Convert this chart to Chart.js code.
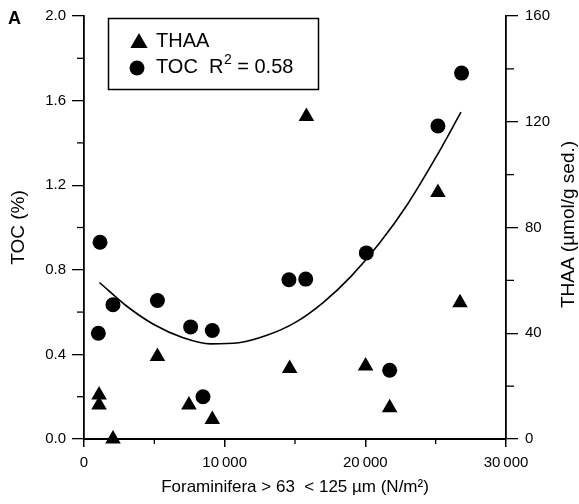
<!DOCTYPE html>
<html>
<head>
<meta charset="utf-8">
<script src="https://cdn.jsdelivr.net/npm/chart.js@4.4.0/dist/chart.umd.min.js"></script>
<style>
  html, body { margin: 0; padding: 0; background: #fff; }
</style>
</head>
<body>
<canvas id="chart" width="579" height="504"></canvas>
<script>
const FONT = "'Liberation Sans', Arial, Helvetica, sans-serif";

// TOC (%) against foraminifera count
const tocX = [1020, 1140, 2060, 5220, 7580, 8460, 9120, 14570, 15760, 20070, 21730, 25160, 26840];
const tocY = [0.50, 0.93, 0.635, 0.655, 0.53, 0.20, 0.513, 0.753, 0.756, 0.88, 0.325, 1.48, 1.73];

// THAA (umol/g sed.) against foraminifera count
const thaaX = [1070, 1070, 2060, 5220, 7460, 9120, 14620, 15810, 20020, 21730, 25160, 26730];
const thaaY = [16.6, 12.9, 0, 31.2, 12.9, 7.4, 26.7, 122, 27.6, 11.8, 93.2, 51.5];

// fitted TOC curve
const fitX = [1100, 3000, 5000, 7000, 9000, 11000, 13000, 15000, 17000, 19000, 21000, 23000, 25000, 26800];
const fitY = [0.74, 0.63, 0.54, 0.48, 0.45, 0.455, 0.49, 0.55, 0.645, 0.77, 0.925, 1.11, 1.33, 1.545];

const xTicks = [0, 10000, 20000, 30000];
const xMinor = [5000, 15000, 25000];
const tocTicks = [0, 0.4, 0.8, 1.2, 1.6, 2.0];
const tocMinor = [0.2, 0.6, 1.0, 1.4, 1.8];
const thaaTicks = [0, 40, 80, 120, 160];
const thaaMinor = [20, 60, 100, 140];

const toPoints = (xs, ys) => xs.map((x, i) => ({ x: x, y: ys[i] }));

function line(ctx, x1, y1, x2, y2) {
    ctx.beginPath();
    ctx.moveTo(x1, y1);
    ctx.lineTo(x2, y2);
    ctx.stroke();
}

const extras = {
    id: "extras",
    afterDraw(chart) {
        const ctx = chart.ctx;
        const { left, right, top, bottom } = chart.chartArea;
        ctx.save();
        ctx.strokeStyle = "#000";
        ctx.fillStyle = "#000";
        ctx.lineWidth = 1.3;

        // minor ticks
        xMinor.forEach(v => {
            const px = chart.scales.x.getPixelForValue(v);
            line(ctx, px, bottom, px, bottom + 5);
        });
        tocMinor.forEach(v => {
            const py = chart.scales.y.getPixelForValue(v);
            line(ctx, left - 7, py, left, py);
        });
        thaaMinor.forEach(v => {
            const py = chart.scales.y1.getPixelForValue(v);
            line(ctx, right, py, right + 8, py);
        });

        // right axis title, reading upward
        ctx.save();
        ctx.translate(569, (top + bottom) / 2 - 3);
        ctx.rotate(-Math.PI / 2);
        ctx.font = "19px " + FONT;
        ctx.textAlign = "center";
        ctx.textBaseline = "middle";
        ctx.fillText("THAA (\u00b5mol/g sed.)", 0, 0);
        ctx.restore();

        // panel letter
        ctx.font = "bold 18px " + FONT;
        ctx.textAlign = "left";
        ctx.textBaseline = "middle";
        ctx.fillText("A", 8, 19);

        // legend box
        ctx.lineWidth = 1.5;
        ctx.strokeRect(108.5, 18.5, 210, 71);
        Chart.helpers.drawPoint(ctx, { pointStyle: "triangle", radius: 8.5, borderWidth: 1 }, 139, 43);
        ctx.fill();
        ctx.beginPath();
        ctx.arc(137, 68, 7.5, 0, Math.PI * 2);
        ctx.fill();

        ctx.font = "20px " + FONT;
        ctx.textBaseline = "middle";
        ctx.fillText("THAA", 156, 41);
        let tx = 156;
        const row2 = 67;
        ctx.fillText("TOC  R", tx, row2);
        tx += ctx.measureText("TOC  R").width;
        ctx.font = "14px " + FONT;
        ctx.fillText("2", tx + 0.5, row2 - 7);
        tx += ctx.measureText("2").width + 0.5;
        ctx.font = "20px " + FONT;
        ctx.fillText(" = 0.58", tx, row2);
        ctx.restore();
    }
};

const tickFont = { family: FONT, size: 15 };

new Chart(document.getElementById("chart"), {
    type: "scatter",
    data: {
        datasets: [
            {
                label: "TOC fit",
                data: toPoints(fitX, fitY),
                yAxisID: "y",
                showLine: true,
                borderColor: "#000",
                borderWidth: 1.6,
                pointRadius: 0,
                cubicInterpolationMode: "monotone",
                order: 3
            },
            {
                label: "TOC",
                data: toPoints(tocX, tocY),
                yAxisID: "y",
                pointStyle: "circle",
                pointRadius: 7.5,
                backgroundColor: "#000",
                borderColor: "#000",
                borderWidth: 0,
                clip: false,
                order: 1
            },
            {
                label: "THAA",
                data: toPoints(thaaX, thaaY),
                yAxisID: "y1",
                pointStyle: "triangle",
                pointRadius: 9,
                backgroundColor: "#000",
                borderColor: "#000",
                borderWidth: 0,
                clip: false,
                order: 2
            }
        ]
    },
    options: {
        responsive: false,
        animation: false,
        layout: { padding: { top: 16, left: 0, right: 0, bottom: 0 } },
        plugins: {
            legend: { display: false },
            tooltip: { enabled: false }
        },
        scales: {
            x: {
                type: "linear",
                position: "bottom",
                min: 0,
                max: 30000,
                afterBuildTicks: s => { s.ticks = xTicks.map(v => ({ value: v })); },
                afterFit: s => { s.height = 65; },
                ticks: {
                    font: tickFont,
                    color: "#000",
                    padding: 7,
                    maxRotation: 0,
                    callback: v => v === 0 ? "0" : (v / 1000) + "\u2009000"
                },
                grid: { drawOnChartArea: false, tickLength: 8, color: "#000", lineWidth: 1.5 },
                border: { display: true, color: "#000", width: 2 },
                title: {
                    display: true,
                    text: "Foraminifera > 63  < 125 \u00b5m (N/m\u00b2)",
                    color: "#000",
                    font: { family: FONT, size: 17 },
                    padding: { top: 0, bottom: 6 }
                }
            },
            y: {
                type: "linear",
                position: "left",
                min: 0,
                max: 2,
                afterBuildTicks: s => { s.ticks = tocTicks.map(v => ({ value: v })); },
                afterFit: s => { s.width = 84; },
                ticks: {
                    font: tickFont,
                    color: "#000",
                    padding: 6,
                    callback: v => v.toFixed(1)
                },
                grid: { drawOnChartArea: false, tickLength: 12, color: "#000", lineWidth: 1.3 },
                border: { display: true, color: "#000", width: 1.8 },
                title: {
                    display: true,
                    text: "TOC (%)",
                    color: "#000",
                    font: { family: FONT, size: 19 },
                    padding: { top: 7, bottom: 0 }
                }
            },
            y1: {
                type: "linear",
                position: "right",
                min: 0,
                max: 160,
                afterBuildTicks: s => { s.ticks = thaaTicks.map(v => ({ value: v })); },
                afterFit: s => { s.width = 73; },
                ticks: {
                    font: tickFont,
                    color: "#000",
                    padding: 7
                },
                grid: { drawOnChartArea: false, tickLength: 12, color: "#000", lineWidth: 1.3 },
                border: { display: true, color: "#000", width: 1.8 }
            }
        }
    },
    plugins: [extras]
});
</script>
</body>
</html>
